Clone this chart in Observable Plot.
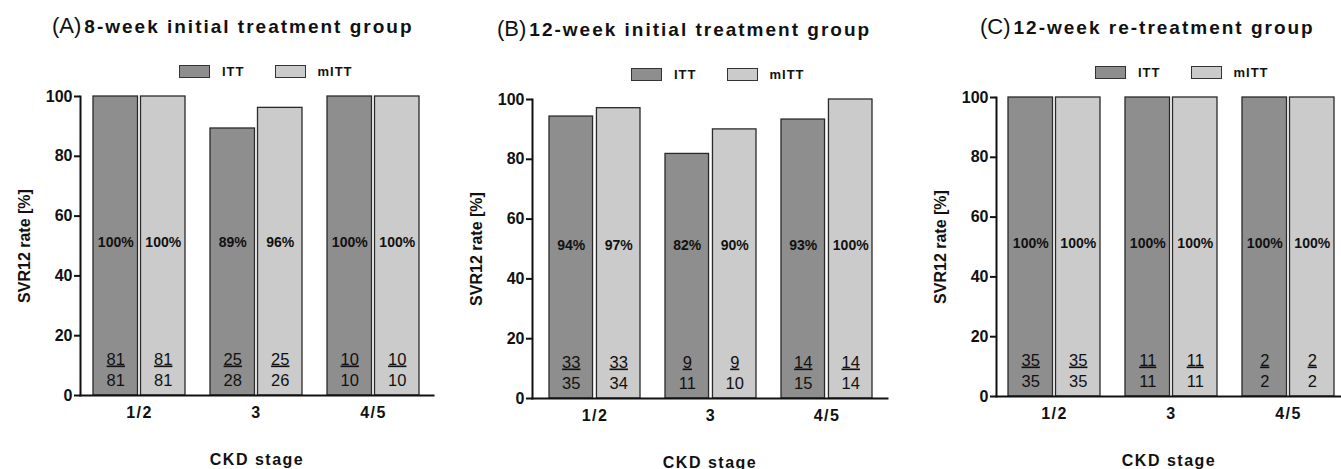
<!DOCTYPE html>
<html>
<head>
<meta charset="utf-8">
<script src="https://cdn.jsdelivr.net/npm/d3@7"></script>
<script src="https://cdn.jsdelivr.net/npm/@observablehq/plot@0.6"></script>
<style>
  html, body { margin: 0; padding: 0; background: #fff; }
  body { width: 1341px; height: 469px; overflow: hidden; font-family: "Liberation Sans", Arial, sans-serif; color: #111; }
  #wrap { position: relative; width: 1341px; height: 469px; }
  .panel { position: absolute; top: 0; width: 447px; height: 469px; }
  .title { position: absolute; top: 13px; white-space: nowrap; font-size: 19px; font-weight: bold; letter-spacing: 2px; color: #111; }
  .title .tag { font-weight: normal; font-size: 22px; letter-spacing: 0; margin-right: 3px; }
  .legend { position: absolute; top: 64px; display: flex; align-items: center; font-weight: bold; font-size: 13px; letter-spacing: 1px; white-space: nowrap; }
  .legend .sw { display: inline-block; width: 29px; height: 11px; border: 1px solid #333; margin-right: 12px; }
  .legend .item { display: flex; align-items: center; margin-right: 30px; }
  g.num text { text-decoration: underline; }
  g[aria-label="x-axis tick label"] text { letter-spacing: 1.5px; }
  g[aria-label="x-axis label"] text { letter-spacing: 1.5px; }
</style>
</head>
<body>
<div id="wrap"></div>
<script>
// ---------- data ----------
const stages = ["1/2", "3", "4/5"];
const series = ["ITT", "mITT"];
const panelTags = ["(A)", "(B)", "(C)"];
const panelTitles = ["8-week initial treatment group", "12-week initial treatment group", "12-week re-treatment group"];
const yTicks = [0, 20, 40, 60, 80, 100];

// SVR12 rate [%] per CKD stage
const rateA_ITT  = [100, 89.3, 100];
const rateA_mITT = [100, 96.2, 100];
const rateB_ITT  = [94.3, 81.8, 93.3];
const rateB_mITT = [97.1, 90.0, 100];
const rateC_ITT  = [100, 100, 100];
const rateC_mITT = [100, 100, 100];

// percentage labels
const pctA_ITT  = ["100%", "89%", "100%"];
const pctA_mITT = ["100%", "96%", "100%"];
const pctB_ITT  = ["94%", "82%", "93%"];
const pctB_mITT = ["97%", "90%", "100%"];
const pctC_ITT  = ["100%", "100%", "100%"];
const pctC_mITT = ["100%", "100%", "100%"];

// numerators / denominators
const numA_ITT  = [81, 25, 10]; const denA_ITT  = [81, 28, 10];
const numA_mITT = [81, 25, 10]; const denA_mITT = [81, 26, 10];
const numB_ITT  = [33, 9, 14];  const denB_ITT  = [35, 11, 15];
const numB_mITT = [33, 9, 14];  const denB_mITT = [34, 10, 14];
const numC_ITT  = [35, 11, 2];  const denC_ITT  = [35, 11, 2];
const numC_mITT = [35, 11, 2];  const denC_mITT = [35, 11, 2];

const seriesFill = ["#8e8e8e", "#cbcbcb"];

// ---------- layout (styles / positions only) ----------
const layouts = [
  { left: 0,   top: 0, width: 447, ml: 80,  mr: 14, po: 0.115, align: 0.48, titleLeft: 52 },
  { left: 447, top: 3, width: 447, ml: 85,  mr: 7,  po: 0.125, align: 0.52, titleLeft: 50 },
  { left: 894, top: 1, width: 447, ml: 102, mr: 0,  po: 0.081, align: 0.63, titleLeft: 86 }
];

function buildRows(rI, rM, pI, pM, nI, nM, dI, dM) {
  const rows = [];
  stages.forEach((s, i) => {
    rows.push({ stage: s, series: "ITT",  rate: rI[i], pct: pI[i], num: nI[i], den: dI[i] });
    rows.push({ stage: s, series: "mITT", rate: rM[i], pct: pM[i], num: nM[i], den: dM[i] });
  });
  return rows;
}

const panelRows = [
  buildRows(rateA_ITT, rateA_mITT, pctA_ITT, pctA_mITT, numA_ITT, numA_mITT, denA_ITT, denA_mITT),
  buildRows(rateB_ITT, rateB_mITT, pctB_ITT, pctB_mITT, numB_ITT, numB_mITT, denB_ITT, denB_mITT),
  buildRows(rateC_ITT, rateC_mITT, pctC_ITT, pctC_mITT, numC_ITT, numC_mITT, denC_ITT, denC_mITT)
];

const wrap = document.getElementById("wrap");
const PI = 0.214;
const H = 383, MT = 10, MB = 74;

panelRows.forEach((rows, k) => {
  const L = layouts[k];
  const panel = document.createElement("div");
  panel.className = "panel";
  panel.style.left = L.left + "px";
  panel.style.top = L.top + "px";
  wrap.appendChild(panel);

  const title = document.createElement("div");
  title.className = "title";
  title.style.left = L.titleLeft + "px";
  title.innerHTML = `<span class="tag">${panelTags[k]}</span>${panelTitles[k]}`;
  panel.appendChild(title);

  const legend = document.createElement("div");
  legend.className = "legend";
  legend.style.left = (L.ml + 99) + "px";
  legend.innerHTML = series.map((s, i) =>
    `<span class="item"><span class="sw" style="background:${seriesFill[i]}"></span>${s}</span>`).join("");
  panel.appendChild(legend);

  const band = d3.scaleBand().domain(stages).range([L.ml, L.width - L.mr])
    .paddingInner(PI).paddingOuter(L.po).align(L.align);
  const bw = band.bandwidth();
  const half = bw / 2 + 1.5;
  const off = bw / 4 + 0.75;

  const itt = rows.filter(d => d.series === "ITT");
  const mitt = rows.filter(d => d.series === "mITT");

  const chart = Plot.plot({
    width: L.width,
    height: H,
    marginLeft: L.ml,
    marginRight: L.mr,
    marginTop: MT,
    marginBottom: MB,
    style: { fontFamily: "Liberation Sans, Arial, sans-serif", fontSize: "16px", fontWeight: "bold", color: "#111", background: "transparent", overflow: "visible" },
    x: { domain: stages, paddingInner: PI, paddingOuter: L.po, align: L.align },
    y: { domain: [0, 100] },
    marks: [
      Plot.barY(itt, { x: "stage", y: "rate", fill: seriesFill[0], stroke: "#2a2a2a", strokeWidth: 1.3, insetRight: half }),
      Plot.barY(mitt, { x: "stage", y: "rate", fill: seriesFill[1], stroke: "#2a2a2a", strokeWidth: 1.3, insetLeft: half }),
      Plot.text(itt, { x: "stage", text: "pct", frameAnchor: "middle", dy: -3, dx: -off, fontSize: 14, fontWeight: "bold", fill: "#111" }),
      Plot.text(mitt, { x: "stage", text: "pct", frameAnchor: "middle", dy: -3, dx: off, fontSize: 14, fontWeight: "bold", fill: "#111" }),
      Plot.text(itt, { x: "stage", text: d => String(d.num), frameAnchor: "bottom", dy: -31, dx: -off, fontSize: 16.5, fontWeight: "normal", fill: "#111", className: "num" }),
      Plot.text(mitt, { x: "stage", text: d => String(d.num), frameAnchor: "bottom", dy: -31, dx: off, fontSize: 16.5, fontWeight: "normal", fill: "#111", className: "num" }),
      Plot.text(itt, { x: "stage", text: d => String(d.den), frameAnchor: "bottom", dy: -10, dx: -off, fontSize: 16.5, fontWeight: "normal", fill: "#111" }),
      Plot.text(mitt, { x: "stage", text: d => String(d.den), frameAnchor: "bottom", dy: -10, dx: off, fontSize: 16.5, fontWeight: "normal", fill: "#111" }),
      Plot.frame({ anchor: "left", stroke: "#111", strokeWidth: 2 }),
      Plot.frame({ anchor: "bottom", stroke: "#111", strokeWidth: 2 }),
      Plot.axisY({ ticks: yTicks, tickSize: 6, tickPadding: 2, strokeWidth: 2, stroke: "#111", fontSize: 16, label: "SVR12 rate [%]", labelAnchor: "center", labelArrow: "none", labelOffset: 62 }),
      Plot.axisX({ tickSize: 0, tickPadding: 11, fontSize: 16, label: "CKD stage", labelAnchor: "center", labelArrow: "none", labelOffset: 69 })
    ]
  });
  chart.style.position = "absolute";
  chart.style.left = "0px";
  chart.style.top = "86px";
  panel.appendChild(chart);
});
</script>
</body>
</html>
